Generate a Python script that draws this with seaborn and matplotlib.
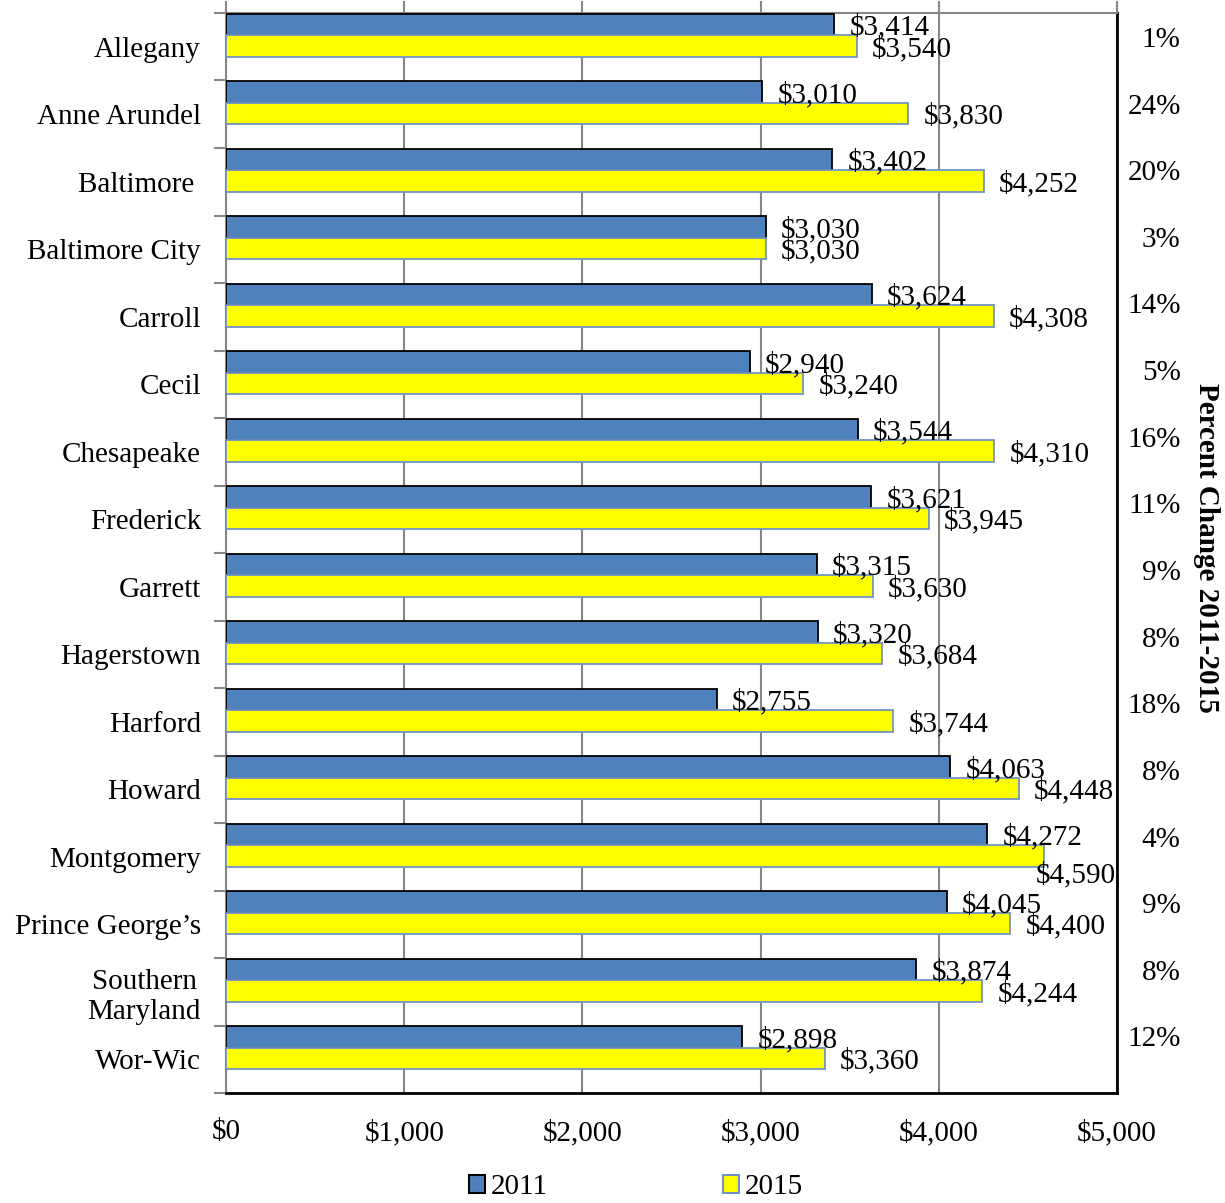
import matplotlib
matplotlib.use("Agg")
import matplotlib.pyplot as plt
import matplotlib.transforms as mtransforms
from matplotlib.patches import Patch
from matplotlib.ticker import FuncFormatter
import seaborn as sns
import pandas as pd

# Community college tuition and fees, 2011 vs 2015
colleges = ["Allegany", "Anne Arundel", "Baltimore ", "Baltimore City", "Carroll",
            "Cecil", "Chesapeake", "Frederick", "Garrett", "Hagerstown", "Harford",
            "Howard", "Montgomery", "Prince George\u2019s", "Southern\nMaryland", "Wor-Wic"]
fees_2011 = [3414, 3010, 3402, 3030, 3624, 2940, 3544, 3621, 3315, 3320, 2755,
             4063, 4272, 4045, 3874, 2898]
fees_2015 = [3540, 3830, 4252, 3030, 4308, 3240, 4310, 3945, 3630, 3684, 3744,
             4448, 4590, 4400, 4244, 3360]
pct_change = ["1%", "24%", "20%", "3%", "14%", "5%", "16%", "11%", "9%", "8%",
              "18%", "8%", "4%", "9%", "8%", "12%"]
years = ["2011", "2015"]
x_ticks = [0, 1000, 2000, 3000, 4000, 5000]

df = pd.DataFrame({
    "college": colleges * 2,
    "fee": fees_2011 + fees_2015,
    "year": [years[0]] * len(colleges) + [years[1]] * len(colleges),
})

sns.set_theme(style="white")
plt.rcParams["font.family"] = ["Liberation Serif", "DejaVu Serif"]
plt.rcParams["text.color"] = "black"
FS = 21

fill = {"2011": "#4F81BD", "2015": "#FFFF00"}
edge = {"2011": "#000000", "2015": "#6F93C8"}
GRID = "#868686"

fig = plt.figure(figsize=(12.25, 12.03), dpi=100)
ax = fig.add_axes([0.1845, 0.0914, 0.7273, 0.8978])

sns.barplot(data=df, x="fee", y="college", hue="year", orient="h",
            palette=fill, width=0.64, dodge=True, saturation=1,
            legend=False, ax=ax, zorder=3)

for cont, yr in zip(ax.containers, years):
    for bar in cont:
        bar.set_edgecolor(edge[yr])
        bar.set_linewidth(1.3)

# value labels next to each bar
for cont in ax.containers:
    texts = ax.bar_label(cont, labels=[f"${v:,.0f}" for v in cont.datavalues],
                         padding=11, fontsize=FS, color="black")
    for t, v in zip(texts, cont.datavalues):
        t.xyann = (11, -2)
        if v > 4500:
            t.xyann = (-6, -14)

n = len(colleges)
ax.set_xlim(0, 5000)
ax.set_ylim(n - 0.33, -0.33)

ax.set_yticks([i + 0.17 for i in range(n)])
ax.set_yticklabels(colleges, fontsize=FS, multialignment="center")
ax.set_yticks([i - 0.33 for i in range(n + 1)], minor=True)
ax.tick_params(axis="y", which="major", length=0, pad=18, labelcolor="black")
ax.tick_params(axis="y", which="minor", length=9, width=1.5, color=GRID,
               direction="out", left=True)

ax.set_xticks(x_ticks)
ax.xaxis.set_major_formatter(FuncFormatter(lambda v, p: f"${v:,.0f}"))
ax.tick_params(axis="x", labelsize=FS, top=True, bottom=False, labeltop=False,
               labelbottom=True, length=9, width=1.5, color=GRID,
               direction="out", pad=10, labelcolor="black")
ax.set_xlabel("")
ax.set_ylabel("")

ax.grid(axis="x", color=GRID, linewidth=1.5, zorder=0)
ax.set_axisbelow(True)

ax.spines["left"].set_color(GRID)
ax.spines["left"].set_linewidth(1.5)
ax.spines["top"].set_color(GRID)
ax.spines["top"].set_linewidth(1.5)
ax.spines["bottom"].set_color("black")
ax.spines["bottom"].set_linewidth(2)
ax.spines["right"].set_color("black")
ax.spines["right"].set_linewidth(2)

# percent change column on the right
trans = mtransforms.blended_transform_factory(ax.transAxes, ax.transData)
for i, p in enumerate(pct_change):
    ax.text(1.0715, 0.07 + i * 0.987, p, transform=trans, ha="right",
            va="center", fontsize=FS)
ax.text(1.101, 0.5046, "Percent Change 2011-2015", transform=ax.transAxes,
        rotation=270, ha="center", va="center", fontsize=FS, fontweight="bold")

handles = [Patch(facecolor=fill[y], edgecolor=edge[y], linewidth=1.5, label=y)
           for y in years]
fig.legend(handles=handles, loc="center", bbox_to_anchor=(0.519, 0.013),
           ncol=2, frameon=False, fontsize=FS, handlelength=0.55,
           handleheight=0.55, handletextpad=0.2, columnspacing=6.0)

fig.savefig("out.png", dpi=100)
